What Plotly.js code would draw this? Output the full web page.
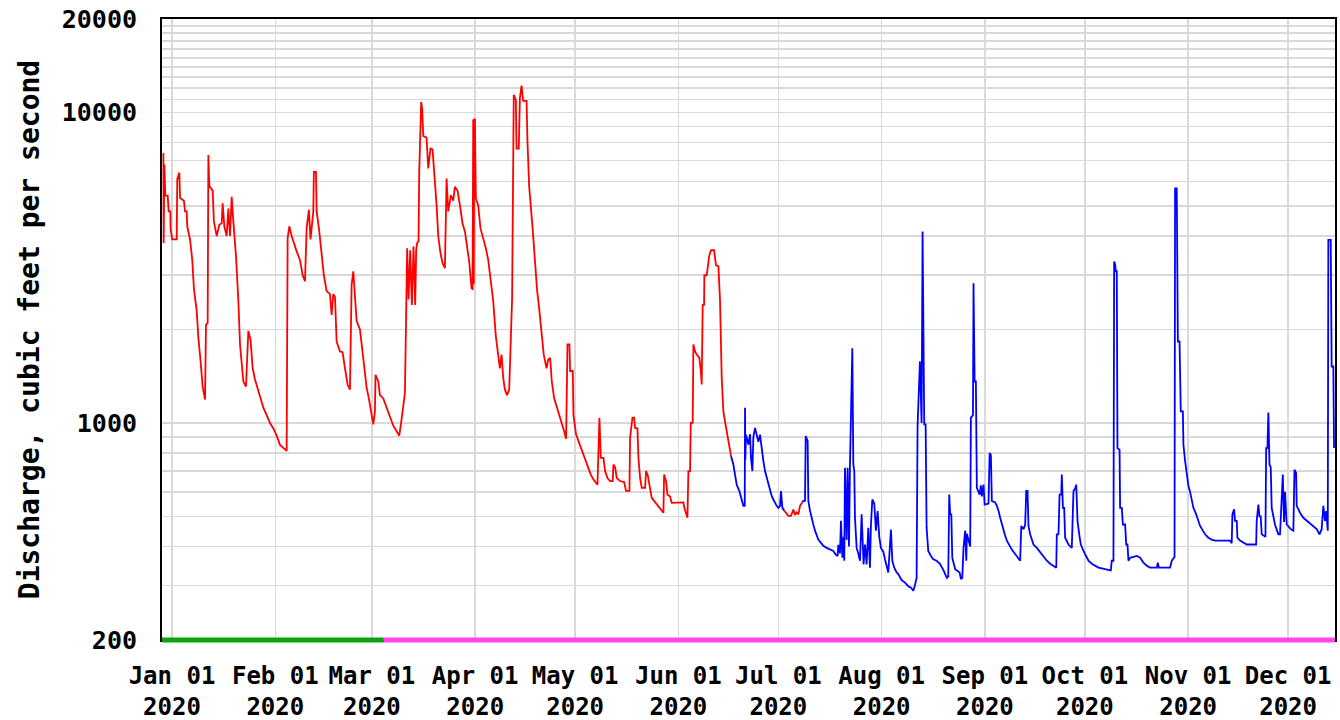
<!DOCTYPE html>
<html>
<head>
<meta charset="utf-8">
<script src="https://cdn.plot.ly/plotly-3.0.1.min.js"></script>
<style>
  html, body { margin: 0; padding: 0; background: #ffffff; }
  #chart { width: 1340px; height: 720px; }
</style>
</head>
<body>
<div id="chart"></div>
<script>
// ---------- data ----------
// Red series, part 1 (Dec 29 2019 - Jun 16 2020)
const redDates1 = [
 "2019-12-29 10:00","2019-12-29 12:00","2019-12-29 17:00","2019-12-30 00:00","2019-12-30 17:00","2019-12-31 00:00",
 "2019-12-31 12:00","2019-12-31 14:00","2020-01-01 02:00","2020-01-02 10:00","2020-01-02 14:00","2020-01-03 05:00",
 "2020-01-03 10:00","2020-01-04 14:00","2020-01-04 22:00","2020-01-05 10:00","2020-01-05 14:00","2020-01-06 10:00",
 "2020-01-07 02:00","2020-01-07 14:00","2020-01-08 10:00","2020-01-08 22:00","2020-01-09 14:00","2020-01-10 05:00",
 "2020-01-10 22:00","2020-01-11 05:00","2020-01-11 17:00","2020-01-11 22:00","2020-01-12 05:00","2020-01-13 05:00",
 "2020-01-13 14:00","2020-01-14 10:00","2020-01-15 05:00","2020-01-15 22:00","2020-01-16 05:00","2020-01-16 17:00",
 "2020-01-17 10:00","2020-01-17 22:00","2020-01-18 10:00","2020-01-18 22:00","2020-01-19 10:00","2020-01-20 05:00",
 "2020-01-20 22:00","2020-01-21 10:00","2020-01-21 22:00","2020-01-22 10:00","2020-01-23 05:00","2020-01-23 14:00",
 "2020-01-23 22:00","2020-01-24 14:00","2020-01-25 05:00","2020-01-25 22:00","2020-01-26 14:00","2020-01-27 10:00",
 "2020-01-28 10:00","2020-01-29 10:00","2020-01-30 10:00","2020-01-31 10:00","2020-02-01 10:00","2020-02-02 10:00",
 "2020-02-03 10:00","2020-02-04 10:00","2020-02-04 17:00","2020-02-05 05:00","2020-02-05 22:00","2020-02-06 10:00",
 "2020-02-07 10:00","2020-02-08 10:00","2020-02-09 05:00","2020-02-09 22:00","2020-02-10 10:00","2020-02-11 02:00",
 "2020-02-11 14:00","2020-02-12 10:00","2020-02-12 14:00","2020-02-13 05:00","2020-02-13 10:00","2020-02-14 05:00",
 "2020-02-14 22:00","2020-02-15 14:00","2020-02-16 10:00","2020-02-17 10:00","2020-02-17 22:00","2020-02-18 10:00",
 "2020-02-18 22:00","2020-02-19 10:00","2020-02-20 10:00","2020-02-21 05:00","2020-02-21 22:00","2020-02-22 17:00",
 "2020-02-23 10:00","2020-02-23 22:00","2020-02-24 10:00","2020-02-24 22:00","2020-02-25 10:00","2020-02-26 10:00",
 "2020-02-27 02:00","2020-02-27 17:00","2020-02-28 10:00","2020-02-29 02:00","2020-02-29 17:00","2020-03-01 10:00",
 "2020-03-01 22:00","2020-03-02 02:00","2020-03-02 22:00","2020-03-03 10:00","2020-03-04 10:00","2020-03-05 10:00",
 "2020-03-06 10:00","2020-03-07 10:00","2020-03-08 10:00","2020-03-09 05:00","2020-03-09 17:00","2020-03-10 10:00",
 "2020-03-10 22:00","2020-03-11 14:00","2020-03-12 00:00","2020-03-12 12:00","2020-03-13 00:00","2020-03-13 12:00",
 "2020-03-14 00:00","2020-03-14 07:00","2020-03-14 14:00","2020-03-15 00:00","2020-03-15 05:00","2020-03-15 19:00",
 "2020-03-16 02:00","2020-03-16 10:00","2020-03-17 10:00","2020-03-17 22:00","2020-03-18 14:00","2020-03-19 05:00",
 "2020-03-19 17:00","2020-03-20 10:00","2020-03-20 22:00","2020-03-21 14:00","2020-03-22 05:00","2020-03-22 22:00",
 "2020-03-23 10:00","2020-03-23 22:00","2020-03-24 17:00","2020-03-25 10:00","2020-03-25 22:00","2020-03-26 17:00",
 "2020-03-27 10:00","2020-03-28 05:00","2020-03-28 22:00","2020-03-29 10:00","2020-03-30 05:00","2020-03-30 22:00",
 "2020-03-31 05:00","2020-03-31 10:00","2020-03-31 14:00","2020-03-31 17:00","2020-03-31 22:00","2020-04-01 05:00",
 "2020-04-01 22:00","2020-04-02 14:00","2020-04-03 10:00","2020-04-04 05:00","2020-04-04 22:00","2020-04-05 14:00",
 "2020-04-06 10:00","2020-04-07 05:00","2020-04-07 22:00","2020-04-08 10:00","2020-04-08 22:00","2020-04-09 10:00",
 "2020-04-09 22:00","2020-04-10 14:00","2020-04-11 05:00","2020-04-11 14:00","2020-04-12 02:00","2020-04-12 14:00",
 "2020-04-13 05:00","2020-04-13 10:00","2020-04-14 02:00","2020-04-14 10:00","2020-04-14 22:00","2020-04-15 10:00",
 "2020-04-16 10:00","2020-04-16 17:00","2020-04-17 05:00","2020-04-18 05:00","2020-04-18 22:00","2020-04-19 14:00",
 "2020-04-20 05:00","2020-04-20 22:00","2020-04-21 14:00","2020-04-22 10:00","2020-04-22 22:00","2020-04-23 12:00",
 "2020-04-24 00:00","2020-04-24 17:00","2020-04-25 12:00","2020-04-26 07:00","2020-04-27 00:00","2020-04-27 17:00",
 "2020-04-28 07:00","2020-04-28 17:00","2020-04-29 07:00","2020-04-29 12:00","2020-04-30 07:00","2020-04-30 12:00",
 "2020-05-01 07:00","2020-05-02 00:00","2020-05-02 17:00","2020-05-03 12:00","2020-05-04 07:00","2020-05-05 00:00",
 "2020-05-05 17:00","2020-05-06 12:00","2020-05-07 17:00","2020-05-08 07:00","2020-05-08 17:00","2020-05-09 12:00",
 "2020-05-10 00:00","2020-05-10 17:00","2020-05-11 12:00","2020-05-12 07:00","2020-05-12 12:00","2020-05-13 00:00",
 "2020-05-13 12:00","2020-05-14 12:00","2020-05-15 17:00","2020-05-16 07:00","2020-05-17 07:00","2020-05-17 12:00",
 "2020-05-18 05:00","2020-05-18 17:00","2020-05-19 00:00","2020-05-19 17:00","2020-05-20 00:00","2020-05-20 12:00",
 "2020-05-21 00:00","2020-05-22 00:00","2020-05-22 07:00","2020-05-22 19:00","2020-05-23 12:00","2020-05-24 00:00",
 "2020-05-24 17:00","2020-05-25 12:00","2020-05-26 07:00","2020-05-27 00:00","2020-05-27 12:00","2020-05-27 17:00",
 "2020-05-28 07:00","2020-05-28 17:00","2020-05-29 12:00","2020-05-30 00:00","2020-05-31 00:00","2020-06-01 00:00",
 "2020-06-02 00:00","2020-06-02 12:00","2020-06-02 19:00","2020-06-03 07:00","2020-06-03 17:00","2020-06-04 00:00",
 "2020-06-04 12:00","2020-06-04 17:00","2020-06-05 07:00","2020-06-05 12:00","2020-06-06 00:00","2020-06-06 12:00",
 "2020-06-07 07:00","2020-06-07 17:00","2020-06-08 00:00","2020-06-08 07:00","2020-06-08 17:00","2020-06-08 19:00",
 "2020-06-09 12:00","2020-06-10 07:00","2020-06-10 19:00","2020-06-11 17:00","2020-06-12 07:00","2020-06-13 00:00",
 "2020-06-13 12:00","2020-06-14 00:00","2020-06-14 12:00","2020-06-15 00:00","2020-06-15 12:00","2020-06-16 07:00",
 "2020-06-16 19:00"
];
const redFlow1 = [
 7400,3800,6800,5400,5400,4800,
 4800,4200,3900,3900,6100,6400,
 5300,5200,4800,4800,4300,3900,
 3350,2700,2300,1880,1580,1310,
 1190,2070,2100,7300,5800,5600,
 4450,4000,4350,4400,5100,4300,
 4000,4900,4000,5350,4450,3450,
 2470,1790,1560,1360,1310,1790,
 1980,1850,1500,1380,1300,1200,
 1120,1060,1000,960,910,850,
 830,813,3930,4300,4000,3840,
 3570,3350,2990,2860,4240,4860,
 3900,4800,6440,6440,4800,4140,
 3470,2990,2660,2600,2230,2600,
 2550,1830,1700,1690,1500,1330,
 1280,2780,3080,2600,2130,2000,
 1720,1470,1300,1200,1090,990,
 1090,1430,1360,1230,1200,1120,
 1040,980,940,910,990,1120,
 1250,3650,2500,3600,2400,3700,
 2400,3600,3800,3840,6440,10800,
 10300,8400,8300,6600,7650,7600,
 6500,5030,4000,3520,3270,3150,
 6130,4800,5420,5200,5770,5600,
 5030,4390,4140,3750,3310,2710,
 2700,9500,2800,9500,9500,5280,
 5030,4240,3930,3650,3350,2930,
 2470,1900,1660,1500,1660,1400,
 1280,1230,1280,1660,2520,11400,
 11000,7650,7650,11100,12200,10900,
 10900,8000,5770,4280,3350,2680,
 2340,1900,1660,1500,1600,1620,
 1360,1200,1130,1060,990,940,
 890,1790,1790,1470,1470,1060,
 917,875,830,790,755,717,
 682,657,633,1040,772,772,
 700,665,650,650,735,720,
 665,650,645,604,604,895,
 1040,1040,964,960,772,665,
 618,618,700,680,618,574,
 561,546,533,522,514,682,
 650,588,580,553,553,555,
 555,555,533,508,495,700,
 700,1000,1000,1790,1700,1660,
 1620,1470,1330,2400,2400,2990,
 2990,3470,3600,3600,3220,3200,
 2470,1400,1090,1010,940,852,
 783
];

// Blue series, part 1 (Jun 16 - Jul 2)
const blueDates1 = [
 "2020-06-16 19:00","2020-06-17 12:00","2020-06-18 00:00","2020-06-18 12:00","2020-06-19 07:00","2020-06-20 00:00",
 "2020-06-20 12:00","2020-06-20 22:00","2020-06-21 00:00","2020-06-21 02:00","2020-06-21 07:00","2020-06-22 00:00",
 "2020-06-22 12:00","2020-06-22 19:00","2020-06-23 05:00","2020-06-23 12:00","2020-06-24 00:00","2020-06-24 12:00",
 "2020-06-25 00:00","2020-06-25 12:00","2020-06-26 00:00","2020-06-26 12:00","2020-06-27 00:00","2020-06-27 12:00",
 "2020-06-28 00:00","2020-06-28 12:00","2020-06-29 00:00","2020-06-29 12:00","2020-06-30 00:00","2020-06-30 12:00",
 "2020-07-01 00:00","2020-07-01 12:00","2020-07-01 19:00","2020-07-02 05:00","2020-07-02 19:00"
];
const blueFlow1 = [
 783,735,682,633,604,561,
 541,541,1120,760,917,852,
 920,772,700,900,964,917,
 870,917,813,755,700,665,
 633,604,582,567,553,541,
 533,540,604,533,522
];

// Red series, part 2 (Jul 2 - Jul 8)
const redDates2 = [
 "2020-07-02 19:00","2020-07-03 05:00","2020-07-04 00:00","2020-07-04 19:00","2020-07-05 12:00","2020-07-06 00:00",
 "2020-07-06 12:00","2020-07-07 00:00","2020-07-07 12:00","2020-07-08 05:00"
];
const redFlow2 = [522,514,502,502,526,505,515,508,541,555];

// Blue series, part 2 (Jul 8 - Dec 14)
const blueDates2 = [
 "2020-07-08 05:00","2020-07-08 12:00","2020-07-09 00:00","2020-07-09 05:00","2020-07-09 19:00","2020-07-10 00:00",
 "2020-07-10 12:00","2020-07-11 00:00","2020-07-11 12:00","2020-07-12 00:00","2020-07-12 12:00","2020-07-13 00:00",
 "2020-07-13 19:00","2020-07-14 12:00","2020-07-15 12:00","2020-07-16 12:00","2020-07-17 12:00","2020-07-18 05:00",
 "2020-07-18 19:00","2020-07-19 00:00","2020-07-19 12:00","2020-07-19 19:00","2020-07-20 05:00","2020-07-20 14:00",
 "2020-07-20 19:00","2020-07-21 00:00","2020-07-21 12:00","2020-07-21 19:00","2020-07-22 05:00","2020-07-22 12:00",
 "2020-07-22 19:00","2020-07-23 05:00","2020-07-23 12:00","2020-07-23 19:00","2020-07-24 00:00","2020-07-24 12:00",
 "2020-07-25 00:00","2020-07-25 12:00","2020-07-26 00:00","2020-07-26 07:00","2020-07-26 14:00","2020-07-27 00:00",
 "2020-07-27 12:00","2020-07-28 00:00","2020-07-28 12:00","2020-07-28 19:00","2020-07-29 05:00","2020-07-29 19:00",
 "2020-07-30 07:00","2020-07-30 19:00","2020-07-31 07:00","2020-07-31 19:00","2020-08-01 12:00","2020-08-02 00:00",
 "2020-08-02 12:00","2020-08-03 00:00","2020-08-03 19:00","2020-08-04 05:00","2020-08-04 19:00","2020-08-05 12:00",
 "2020-08-06 00:00","2020-08-06 12:00","2020-08-07 00:00","2020-08-08 00:00","2020-08-09 00:00","2020-08-09 19:00",
 "2020-08-10 12:00","2020-08-11 00:00","2020-08-11 12:00","2020-08-11 19:00","2020-08-12 12:00","2020-08-13 00:00",
 "2020-08-13 07:00","2020-08-13 19:00","2020-08-14 05:00","2020-08-14 12:00","2020-08-15 00:00","2020-08-15 19:00",
 "2020-08-16 12:00","2020-08-17 12:00","2020-08-18 12:00","2020-08-19 14:00","2020-08-20 14:00","2020-08-21 00:00",
 "2020-08-21 07:00","2020-08-21 14:00","2020-08-21 22:00","2020-08-22 05:00","2020-08-23 02:00","2020-08-24 10:00",
 "2020-08-24 19:00","2020-08-25 05:00","2020-08-25 14:00","2020-08-26 02:00","2020-08-26 10:00","2020-08-26 14:00",
 "2020-08-27 02:00","2020-08-27 14:00","2020-08-27 19:00","2020-08-28 10:00","2020-08-28 14:00","2020-08-28 22:00",
 "2020-08-29 07:00","2020-08-29 14:00","2020-08-30 10:00","2020-08-30 19:00","2020-08-31 02:00","2020-08-31 14:00",
 "2020-08-31 22:00","2020-09-02 02:00","2020-09-02 10:00","2020-09-02 19:00","2020-09-03 02:00","2020-09-04 02:00",
 "2020-09-04 14:00","2020-09-05 02:00","2020-09-05 14:00","2020-09-06 02:00","2020-09-06 14:00","2020-09-07 02:00",
 "2020-09-07 14:00","2020-09-08 10:00","2020-09-09 02:00","2020-09-09 19:00","2020-09-10 14:00","2020-09-11 14:00",
 "2020-09-11 22:00","2020-09-12 14:00","2020-09-13 02:00","2020-09-13 10:00","2020-09-13 19:00","2020-09-14 02:00",
 "2020-09-14 14:00","2020-09-15 14:00","2020-09-16 14:00","2020-09-18 02:00","2020-09-18 19:00","2020-09-19 14:00",
 "2020-09-20 14:00","2020-09-22 10:00","2020-09-22 14:00","2020-09-23 02:00","2020-09-23 10:00","2020-09-23 22:00",
 "2020-09-24 02:00","2020-09-24 10:00","2020-09-24 19:00","2020-09-25 02:00","2020-09-26 02:00","2020-09-27 02:00",
 "2020-09-27 14:00","2020-09-28 02:00","2020-09-28 10:00","2020-09-28 19:00","2020-09-29 10:00","2020-09-29 19:00",
 "2020-09-30 14:00","2020-10-01 10:00","2020-10-02 02:00","2020-10-03 02:00","2020-10-05 02:00","2020-10-07 02:00",
 "2020-10-08 19:00","2020-10-09 02:00","2020-10-09 14:00","2020-10-09 19:00","2020-10-10 02:00","2020-10-10 07:00",
 "2020-10-10 14:00","2020-10-10 19:00","2020-10-11 10:00","2020-10-11 14:00","2020-10-12 02:00","2020-10-12 10:00",
 "2020-10-13 02:00","2020-10-13 10:00","2020-10-13 19:00","2020-10-14 02:00","2020-10-14 14:00","2020-10-16 14:00",
 "2020-10-17 14:00","2020-10-18 14:00","2020-10-19 14:00","2020-10-20 14:00","2020-10-22 14:00","2020-10-22 22:00",
 "2020-10-23 05:00","2020-10-26 14:00","2020-10-27 02:00","2020-10-27 22:00","2020-10-28 02:00","2020-10-28 14:00",
 "2020-10-28 22:00","2020-10-29 10:00","2020-10-29 19:00","2020-10-30 10:00","2020-10-30 14:00","2020-10-31 02:00",
 "2020-10-31 14:00","2020-11-01 02:00","2020-11-01 14:00","2020-11-02 02:00","2020-11-02 14:00","2020-11-03 10:00",
 "2020-11-04 02:00","2020-11-04 14:00","2020-11-05 10:00","2020-11-06 02:00","2020-11-07 02:00","2020-11-08 02:00",
 "2020-11-09 02:00","2020-11-13 14:00","2020-11-14 02:00","2020-11-14 07:00","2020-11-14 19:00","2020-11-15 02:00",
 "2020-11-15 14:00","2020-11-15 19:00","2020-11-16 14:00","2020-11-18 14:00","2020-11-21 10:00","2020-11-21 14:00",
 "2020-11-22 02:00","2020-11-22 10:00","2020-11-22 19:00","2020-11-23 02:00","2020-11-24 05:00","2020-11-24 10:00",
 "2020-11-24 19:00","2020-11-25 02:00","2020-11-25 10:00","2020-11-25 19:00","2020-11-26 02:00","2020-11-27 02:00",
 "2020-11-28 02:00","2020-11-28 14:00","2020-11-29 10:00","2020-11-29 19:00","2020-11-30 02:00","2020-11-30 14:00",
 "2020-12-01 19:00","2020-12-02 14:00","2020-12-02 22:00","2020-12-03 10:00","2020-12-03 14:00","2020-12-04 14:00",
 "2020-12-05 14:00","2020-12-06 14:00","2020-12-08 14:00","2020-12-09 14:00","2020-12-10 10:00","2020-12-11 02:00",
 "2020-12-11 14:00","2020-12-12 02:00","2020-12-12 10:00","2020-12-12 22:00","2020-12-13 02:00","2020-12-13 19:00",
 "2020-12-14 02:00","2020-12-14 14:00","2020-12-14 19:00"
];
const blueFlow2 = [
 555,561,561,908,875,561,
 522,490,471,450,438,421,
 411,402,396,391,387,377,
 373,405,380,484,368,430,
 360,717,420,717,400,735,
 1020,1740,735,700,495,396,
 380,360,508,406,350,406,
 350,460,342,470,567,550,
 450,520,430,396,385,364,
 342,330,454,360,342,330,
 326,317,312,306,298,295,
 288,300,317,980,1580,1000,
 4140,990,990,460,387,373,
 364,360,352,335,317,320,
 588,508,508,368,338,330,
 314,317,396,450,360,440,
 418,400,1040,1060,2820,1360,
 1360,618,588,630,580,633,
 546,550,800,790,561,555,
 541,522,495,471,450,433,
 418,402,391,382,373,360,
 466,455,470,604,604,466,
 438,406,396,377,368,360,
 352,342,438,438,588,588,
 682,533,533,427,406,396,
 604,615,633,484,430,406,
 387,373,360,352,342,338,
 335,360,360,3310,3250,3080,
 3080,830,820,533,533,471,
 471,406,406,360,368,373,
 368,355,347,342,342,355,
 342,342,360,370,5690,5690,
 1830,1830,1090,1090,852,755,
 675,627,600,561,533,508,
 484,466,450,438,427,421,
 418,418,410,508,527,484,
 484,427,418,406,406,484,
 546,500,500,438,430,830,
 830,1080,735,720,533,470,
 438,438,682,480,600,471,
 455,450,707,690,541,514,
 495,484,466,455,438,455,
 541,484,520,450,3890,3890,
 1520,1520,830
];

// Status bar along the bottom of the plot (approval periods)
const statusGreenDates = ["2019-12-27 12:00", "2020-03-04 14:00"];
const statusPinkDates  = ["2020-03-04 14:00", "2020-12-15 02:00"];

// Axis ticks
const xTickVals = ["2020-01-01","2020-02-01","2020-03-01","2020-04-01","2020-05-01","2020-06-01",
                   "2020-07-01","2020-08-01","2020-09-01","2020-10-01","2020-11-01","2020-12-01"];
const xTickText = ["Jan 01<br>2020","Feb 01<br>2020","Mar 01<br>2020","Apr 01<br>2020","May 01<br>2020","Jun 01<br>2020",
                   "Jul 01<br>2020","Aug 01<br>2020","Sep 01<br>2020","Oct 01<br>2020","Nov 01<br>2020","Dec 01<br>2020"];
const yTickVals = [200, 1000, 10000, 20000];
const yTickText = ["200", "1000", "10000", "20000"];
const yMinorVals = [300,400,500,600,700,800,900,
                    2000,3000,4000,5000,6000,7000,8000,9000,
                    11000,12000,13000,14000,15000,16000,17000,18000,19000];

// ---------- chart ----------
const FONT = "DejaVu Sans Mono, Liberation Mono, monospace";
const RED = "#ff0000", BLUE = "#0000ff";

const lineTrace = (x, y, color) => ({
  type: "scatter", mode: "lines", x: x, y: y,
  line: { color: color, width: 1.8, shape: "linear" },
  hoverinfo: "x+y", showlegend: false
});

const traces = [
  lineTrace(redDates1, redFlow1, RED),
  lineTrace(blueDates1, blueFlow1, BLUE),
  lineTrace(redDates2, redFlow2, RED),
  lineTrace(blueDates2, blueFlow2, BLUE)
];

const statusShape = (dates, color) => ({
  type: "line", xref: "x", yref: "paper",
  x0: dates[0], x1: dates[1], y0: 0, y1: 0,
  line: { color: color, width: 5 }, layer: "above"
});

const layout = {
  width: 1340, height: 720,
  paper_bgcolor: "#ffffff", plot_bgcolor: "#ffffff",
  margin: { l: 162, r: 5, t: 19, b: 80, pad: 0 },
  showlegend: false,
  font: { family: FONT, size: 25, color: "#000000", weight: "bold" },
  shapes: [
    statusShape(statusGreenDates, "#0fa00f"),
    statusShape(statusPinkDates, "#ff44ee")
  ],
  xaxis: {
    type: "date",
    range: ["2019-12-29 00:00", "2020-12-15 02:00"],
    tickmode: "array", tickvals: xTickVals, ticktext: xTickText,
    ticks: "", ticklabelstandoff: 13,
    tickfont: { family: FONT, size: 24, color: "#000000", weight: "bold" },
    showgrid: true, gridcolor: "#d9d9d9", gridwidth: 1.5,
    showline: true, linecolor: "#000000", linewidth: 2, mirror: true,
    zeroline: false, automargin: false, fixedrange: true
  },
  yaxis: {
    type: "log",
    range: [Math.log10(200), Math.log10(20000)],
    tickmode: "array", tickvals: yTickVals, ticktext: yTickText,
    ticks: "", ticklabelstandoff: 18,
    tickfont: { family: FONT, size: 25, color: "#000000", weight: "bold" },
    showgrid: true, gridcolor: "#d9d9d9", gridwidth: 1.5,
    minor: { tickmode: "array", tickvals: yMinorVals, showgrid: true,
             gridcolor: "#d9d9d9", gridwidth: 1.5, ticks: "" },
    showline: true, linecolor: "#000000", linewidth: 2, mirror: true,
    zeroline: false, automargin: false, fixedrange: true,
    title: { text: "Discharge, cubic feet per second", standoff: 14,
             font: { family: FONT, size: 28, color: "#000000", weight: "bold" } }
  }
};

Plotly.newPlot("chart", traces, layout, { staticPlot: true, displayModeBar: false });
</script>
</body>
</html>
